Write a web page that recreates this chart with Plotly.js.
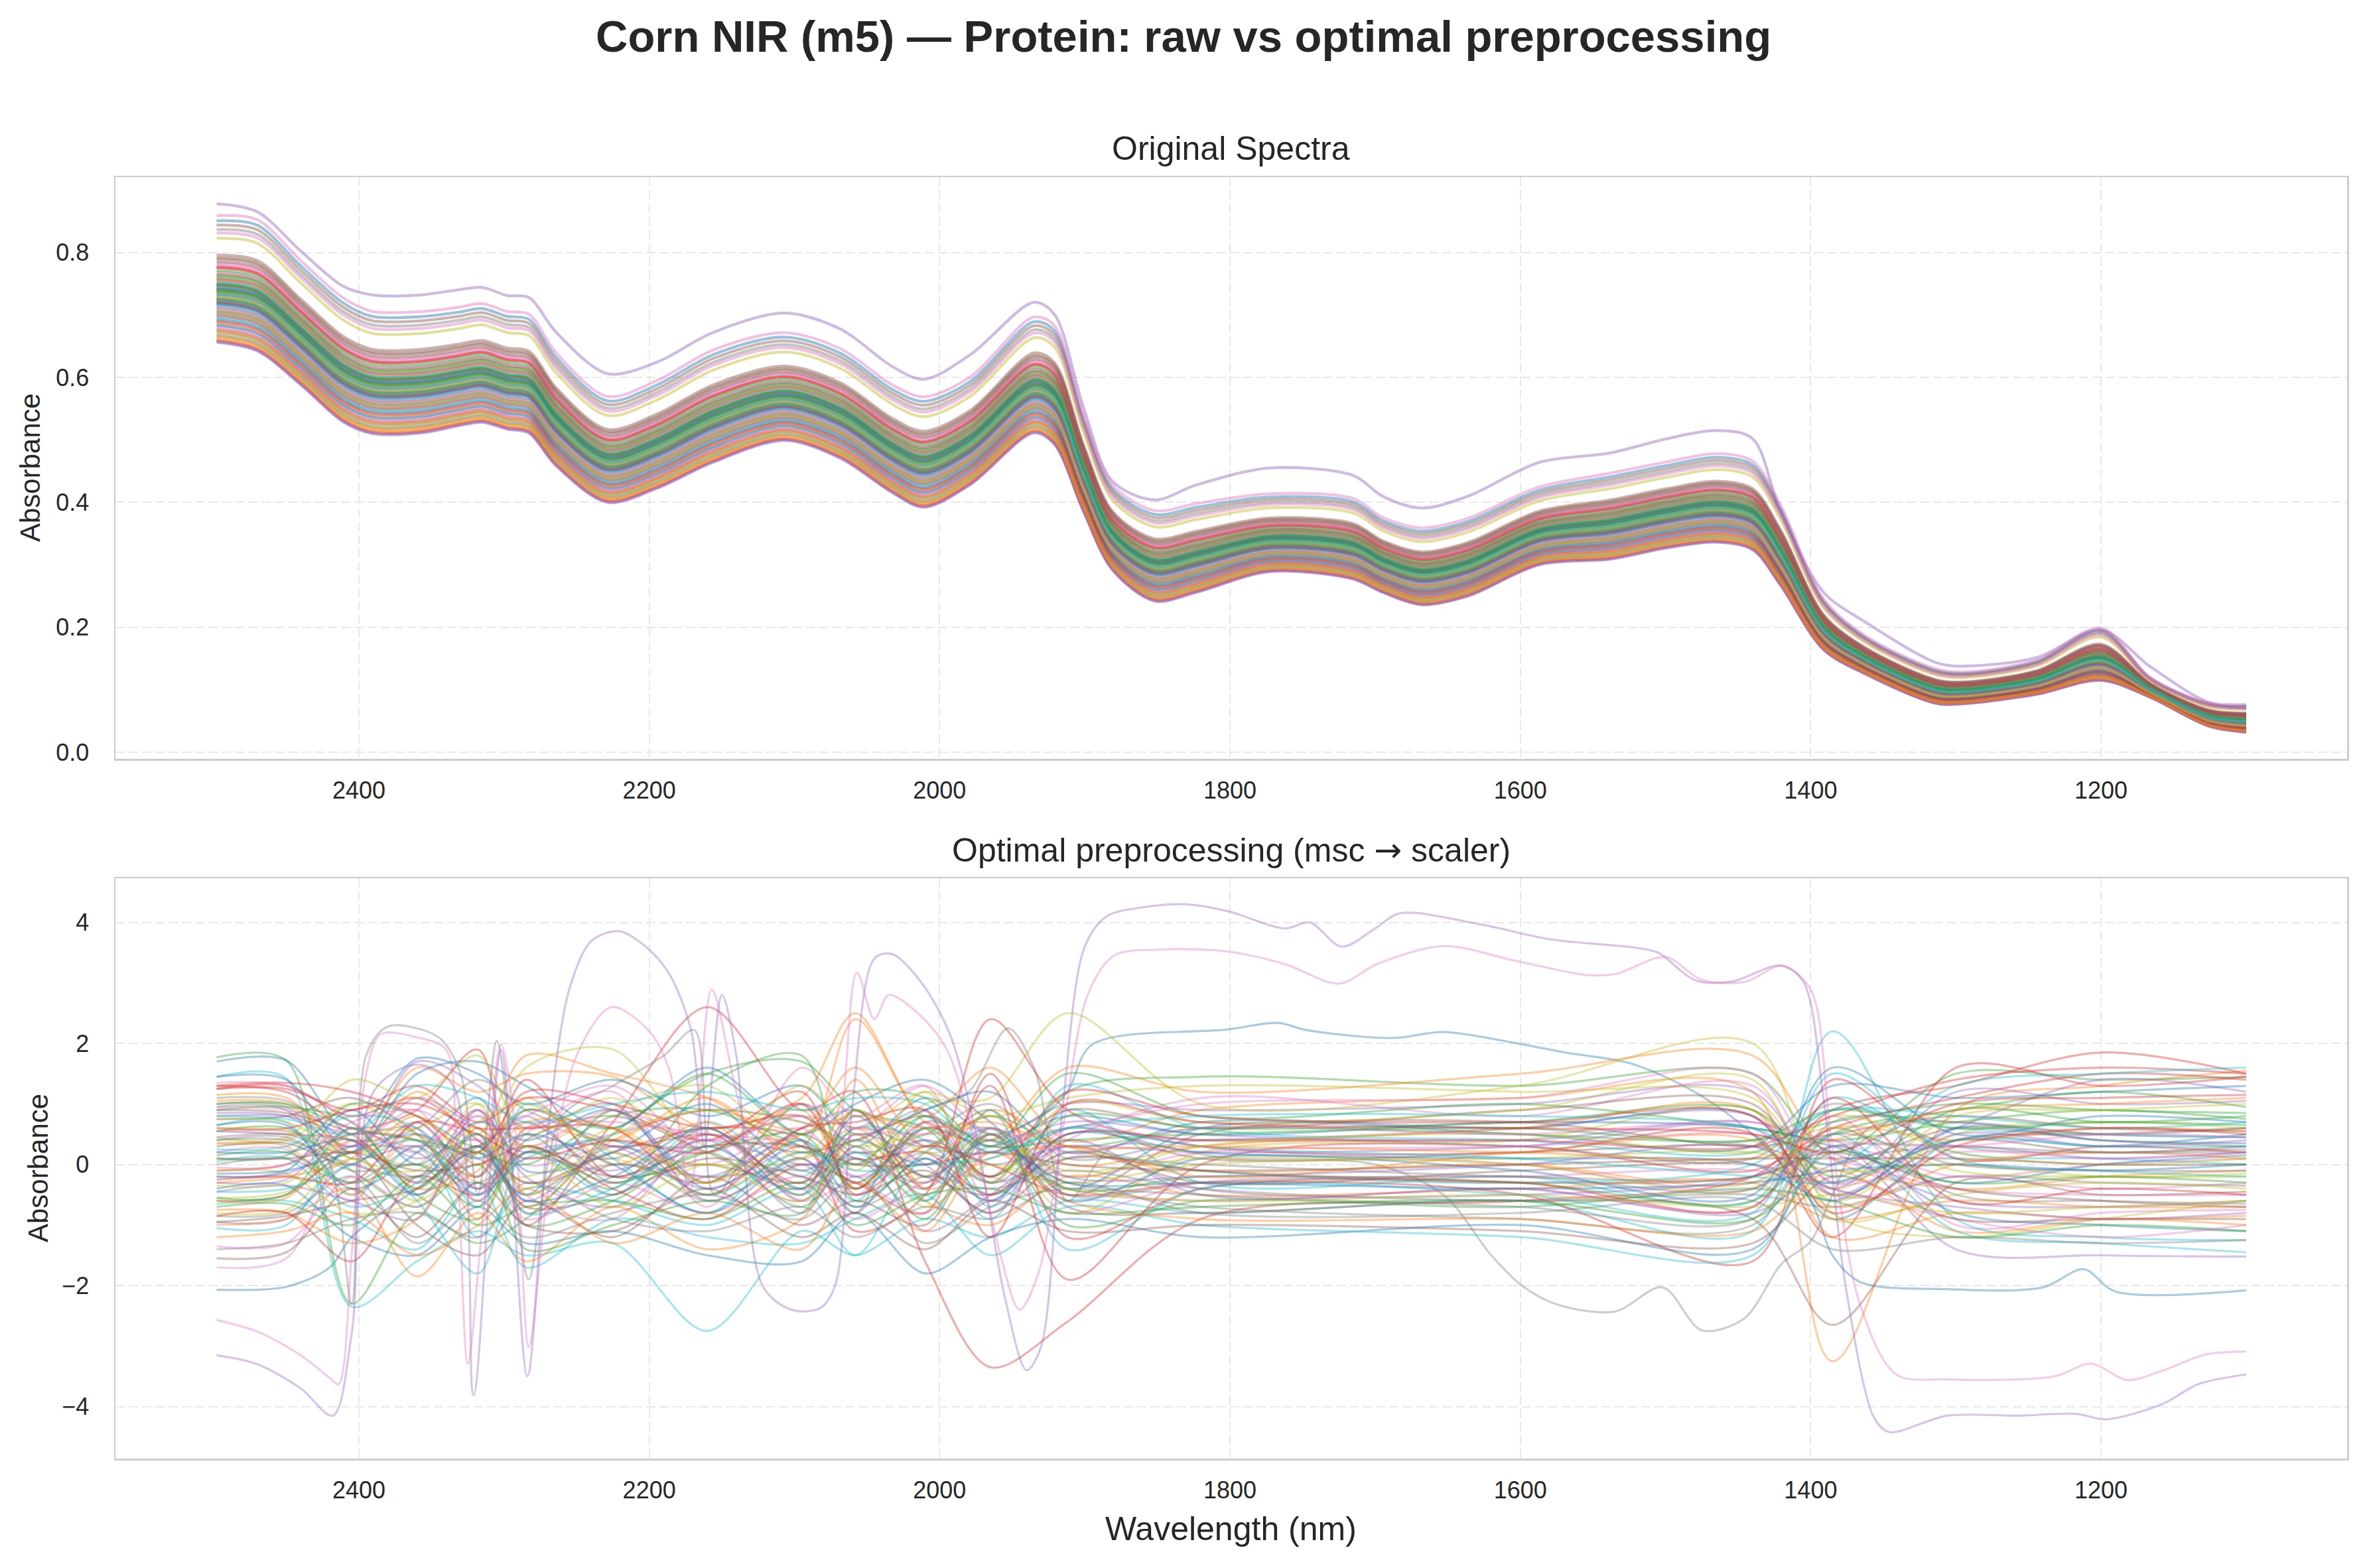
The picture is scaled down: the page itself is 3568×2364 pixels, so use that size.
<!DOCTYPE html>
<html>
<head>
<meta charset="utf-8">
<script src="https://cdn.plot.ly/plotly-3.0.1.min.js"></script>
<style>
  html, body { margin: 0; padding: 0; background: #ffffff; }
  #chart { width: 3568px; height: 2364px; }
</style>
</head>
<body>
<div id="chart"></div>
<script>
// ---------------------------------------------------------------
// Corn NIR, instrument m5: 80 samples, 1100–2498 nm.
// ---------------------------------------------------------------

// Raw absorbance: wavelengths (nm) of the spectral knots.
const rawWl = [2498, 2470, 2440, 2411, 2391, 2357, 2332, 2315, 2298, 2283, 2264, 2229, 2195, 2156, 2107,
               2068, 2033, 2011, 1979, 1935, 1921, 1901, 1881, 1852, 1823, 1773, 1715, 1695, 1668, 1636,
               1587, 1538, 1499, 1465, 1440, 1421, 1391, 1362, 1313, 1293, 1244, 1200, 1166, 1126, 1100];

// Lower edge of the main band of raw spectra.
const bandLow = [0.656, 0.642, 0.588, 0.529, 0.510, 0.511, 0.522, 0.528, 0.517, 0.511, 0.458, 0.400, 0.422, 0.464, 0.499,
                 0.470, 0.416, 0.392, 0.428, 0.511, 0.493, 0.386, 0.292, 0.242, 0.256, 0.289, 0.277, 0.256, 0.236, 0.250,
                 0.300, 0.309, 0.327, 0.336, 0.324, 0.268, 0.164, 0.125, 0.078, 0.078, 0.093, 0.115, 0.088, 0.042, 0.032];

// Upper edge of the main band of raw spectra.
const bandHigh = [0.796, 0.787, 0.725, 0.666, 0.645, 0.645, 0.653, 0.659, 0.647, 0.642, 0.583, 0.517, 0.541, 0.588, 0.618,
                  0.591, 0.535, 0.514, 0.547, 0.639, 0.624, 0.493, 0.386, 0.342, 0.354, 0.375, 0.366, 0.339, 0.321, 0.336,
                  0.386, 0.404, 0.422, 0.434, 0.422, 0.357, 0.220, 0.167, 0.116, 0.113, 0.131, 0.173, 0.110, 0.068, 0.063];

// Sample 74 sits well above the band everywhere.
const rawSample74 = [0.878, 0.865, 0.802, 0.746, 0.732, 0.732, 0.740, 0.744, 0.731, 0.728, 0.672, 0.606, 0.624, 0.672, 0.703,
                     0.677, 0.618, 0.597, 0.636, 0.720, 0.701, 0.553, 0.434, 0.404, 0.428, 0.455, 0.443, 0.410, 0.391, 0.410,
                     0.464, 0.479, 0.502, 0.515, 0.502, 0.386, 0.256, 0.208, 0.143, 0.138, 0.152, 0.196, 0.137, 0.080, 0.070];

// Position of each sample within the band (0 = lower edge, 1 = upper edge).
const bandPos = [0.55, 0.05, 0.62, 0.30, 0.72, 1.00, 0.80, 0.45, 0.58, 0.12,
                 0.40, 0.22, 0.68, 0.85, 0.35, 0.60, 0.90, 0.52, 0.75, 0.28,
                 1.39, 0.10, 0.48, 0.65, 0.18, 0.95, 0.70, 1.29, 0.38, 0.50,
                 0.26, 0.58, 0.82, 0.02, 0.44, 0.66, 0.33, 0.57, 1.19, 0.08,
                 0.63, 0.03, 0.76, 0.15, 0.54, 1.34, 0.88, 0.36, 0.60, 0.47,
                 0.20, 0.71, 0.50, 0.86, 0.00, 0.78, 1.25, 0.32, 0.52, 0.68,
                 0.43, 0.13, 0.59, 0.24, 0.01, 0.92, 0.39, 0.73, 0.56, 0.45,
                 0.61, 0.07, 0.66, 0.46, 1.62, 0.97, 1.45, 0.49, 0.34, 0.56];

// After MSC + standard scaling: knot wavelengths shared by the ordinary samples.
const scaledWl = [2498, 2450, 2405, 2360, 2318, 2285, 2225, 2160, 2095, 2058,
                  2010, 1965, 1912, 1820, 1600, 1440, 1385, 1300, 1200, 1100];

// Scaled values per sample (null rows are the traced outliers below).
const scaledRows = [
  null,
  [1.05, 1.0, 0.3, 1.6, 1.2, 1.5, 1.45, 0.6, 1.1, 2.5, 0.8, 1.6, 0.4, 0.9, 1.1, 1.2, -3.25, 0.9, 1.3, 1.55],
  [1.77, 1.72, -2.3, -0.8, -1.3, -0.9, 0.5, 1.5, 1.7, 0.9, 0.6, -0.3, 1.2, 1.45, 1.3, 1.5, 0.2, 1.5, 1.4, 1.45],
  [1.30, 1.2, 0.6, 0.9, 1.9, -1.0, 0.7, 2.6, 0.9, 1.2, -1.6, -3.35, -2.6, -0.9, -0.6, -0.2, 0.9, 1.3, 1.85, 1.5],
  [0.45, 0.5, 0.2, 1.7, 1.3, 0.6, 1.0, -0.6, 0.1, -0.8, 0.7, 0.4, 1.0, 0.9, 1.0, 1.2, -0.3, 0.6, 1.4, 1.2],
  [0.75, 0.8, 1.1, 0.5, -0.6, 0.4, 0.8, 0.2, -0.4, 0.6, 0.3, 0.9, -0.5, 0.5, 0.7, 0.3, 0.5, 0.8, 0.6, 0.55],
  [-1.70, -1.55, 0.4, -0.3, 0.8, -0.5, -0.9, 0.5, -0.6, -0.3, -0.8, 0.2, -0.4, -0.6, -0.4, -0.7, 0.8, -1.0, -0.8, -0.75],
  null,
  [0.35, 0.4, 1.0, 0.5, 0.2, 1.6, 1.9, 0.3, 0.9, -0.4, 1.0, 1.1, 2.5, 1.0, 1.3, 2.0, -0.8, -1.2, -0.9, -0.6],
  [1.45, 1.42, -2.35, -1.6, -1.1, -1.5, -1.3, -2.75, -1.1, -1.5, -0.9, -1.2, -0.6, -0.8, -0.6, -1.1, 2.2, -0.9, -1.2, -1.25],
  [1.70, 1.72, 0.5, 1.75, 1.5, 1.0, 1.4, 0.8, 1.3, 0.5, 0.9, 1.2, 0.2, 0.7, 0.6, 0.8, -0.9, 0.4, 0.3, 0.5],
  [-0.30, -0.2, 0.1, 1.2, 0.5, 1.8, 1.5, 1.1, 0.3, 2.4, 0.7, 0.4, 1.6, 1.2, 1.5, 1.8, 0.1, -0.4, -0.2, -0.1],
  [0.90, 0.95, 0.7, -0.5, -0.9, 0.3, -0.4, 1.3, 1.8, -0.6, 0.2, 0.8, 0.3, 0.6, 0.5, 0.4, 0.7, 1.0, 0.9, 0.85],
  [1.25, 1.3, 0.8, 1.1, 0.4, -0.3, 0.2, 0.6, 0.4, -1.1, -0.5, 2.4, 0.9, 0.3, 0.2, 0.5, -1.2, 1.6, 1.3, 1.45],
  [-0.95, -0.9, 0.0, -0.5, 0.2, 0.8, -0.3, 0.4, -0.8, 0.3, -1.1, -0.5, 0.3, -0.4, -0.5, -0.2, 0.4, -1.4, -1.5, -1.52],
  [0.55, 0.5, 0.4, -0.2, 0.9, -0.8, 0.0, -0.3, 0.5, 0.0, 0.4, -0.2, 0.6, 0.1, 0.2, 0.3, 0.0, 0.6, 0.4, 0.3],
  [0.20, 0.25, -0.6, 0.7, -0.4, 0.5, 1.2, -0.7, 1.6, 0.8, 1.3, -0.6, 0.4, 1.1, 0.8, 1.3, -0.5, -0.2, -0.4, -0.3],
  [-0.85, -0.8, -0.2, -1.3, -0.6, -1.2, -0.8, -0.5, -0.9, -0.2, -1.3, -0.7, -0.4, -0.7, -0.9, -1.0, 0.6, -0.5, -0.6, -0.65],
  [-0.55, -0.45, 0.2, 0.0, 1.0, 0.3, 0.9, 1.3, 0.2, 0.5, -0.3, 0.5, -0.8, 0.2, 0.4, 0.9, -0.6, 0.5, 0.7, 0.6],
  [0.65, 0.7, -0.5, 0.3, -1.2, -0.4, -0.6, -1.0, -0.4, -1.5, 0.1, -0.9, 0.9, -0.3, -0.2, -0.6, 1.1, 0.2, 0.1, 0.0],
  [-0.40, -0.35, -1.2, -1.5, -0.7, -1.3, -1.1, -1.5, -1.6, -0.8, -1.8, -1.2, -0.9, -1.2, -1.0, -1.4, 0.3, -0.8, -1.0, -1.1],
  [-1.00, -0.9, -0.4, -1.85, -0.8, -1.6, -0.7, -1.4, -0.9, 0.5, -0.6, -1.0, -0.2, -0.5, -0.4, -0.3, -0.9, -0.6, -0.7, -0.7],
  [0.10, 0.15, 1.0, 0.8, 0.3, 0.9, 0.6, 1.5, 0.5, 1.2, 1.1, 0.3, 1.5, 0.8, 1.0, 0.6, 0.4, 0.7, 0.9, 0.75],
  [-0.10, 0.0, 0.5, 0.4, -0.2, 1.4, -0.2, 0.5, -0.3, 0.9, -0.4, 1.3, -1.9, 0.0, 0.3, -0.1, 0.6, 1.1, 1.5, 1.4],
  [0.85, 0.8, 0.3, 1.1, 0.6, 0.2, 0.5, 0.9, 0.7, 0.4, 0.9, -0.3, 0.5, 0.4, 0.6, 0.8, -0.4, 1.2, 1.0, 1.05],
  [-0.60, -0.5, 0.2, -1.0, -1.5, -0.6, -1.2, -0.2, -1.0, -0.6, -1.0, 0.5, -0.7, -0.8, -0.6, -0.9, -2.65, -0.3, -0.5, -0.45],
  [1.35, 1.3, 0.7, 0.2, 0.9, 0.0, 0.3, 0.0, 0.6, -0.2, 0.1, -0.6, 0.6, 0.3, 0.0, -0.4, 0.3, -0.2, 0.0, 0.1],
  [1.10, 1.05, 0.4, 0.6, 1.4, 0.9, 0.4, 0.3, 0.8, 0.2, 0.5, 1.0, 0.1, 0.4, 0.3, 0.1, 1.0, 0.3, 0.2, 0.25],
  [0.75, 0.7, 0.2, 0.4, -0.3, -0.2, 0.1, -0.5, 0.2, -0.3, 0.3, 0.0, -0.3, 0.0, 0.1, 0.2, -0.1, 0.0, -0.2, -0.15],
  [-1.05, -1.0, 0.3, -0.6, -1.8, 0.2, -0.5, 0.7, -0.2, 0.6, 0.4, -0.5, 0.2, -0.1, -0.3, 0.0, 0.9, 0.6, 0.5, 0.45],
  [1.45, 1.4, 0.2, 1.5, 1.7, 1.3, 0.6, 1.6, 0.5, 1.0, 1.4, 0.7, -0.4, 0.6, 0.5, 0.3, 1.3, 1.1, 1.2, 1.3],
  [-0.75, -0.8, -1.3, -0.9, 0.6, -0.7, 0.4, 0.9, 0.6, 1.6, 0.3, 0.8, 0.0, 0.3, 0.6, 0.9, -1.2, -0.8, -0.9, -0.85],
  [0.55, 0.6, -0.1, -0.7, 0.0, -1.0, -0.6, 0.2, -0.7, 0.1, -0.9, 0.6, -0.4, -0.2, -0.3, -0.6, 0.5, 0.9, 1.2, 0.95],
  [1.25, 1.25, 0.9, 1.3, 0.7, 1.1, 0.9, 0.4, 1.2, -0.5, 0.3, 0.0, -0.5, -0.3, -0.5, -1.6, 1.4, 0.1, 0.3, 0.2],
  [-0.30, -0.25, 0.6, 0.1, 0.4, -0.6, 0.3, -0.2, 0.6, 0.9, 0.3, 0.2, 0.7, 0.5, 0.4, 0.7, 0.2, -0.6, -0.7, -0.6],
  [0.90, 0.85, 0.5, -0.3, 0.3, 0.7, -0.2, 0.0, -0.3, 0.2, -0.2, -0.5, 0.2, -0.3, -0.1, 0.0, -0.3, 0.4, 0.2, 0.3],
  [0.55, 0.55, 0.3, 0.9, -0.6, 0.6, 0.7, 0.5, 0.3, -0.5, 0.6, 0.4, -0.2, 0.2, 0.3, 0.5, 0.1, -0.4, -0.5, -0.5],
  [0.00, 0.1, -0.3, 0.3, 0.1, -0.5, 0.2, -0.6, 0.0, -0.7, -0.2, -0.4, -0.1, -0.4, -0.6, -0.5, -0.7, -0.2, -0.3, -0.35],
  [0.45, 0.45, 1.4, 1.1, 1.8, 0.5, 1.1, 0.2, 1.3, 0.6, 1.2, 0.8, 1.1, 1.3, 1.2, 1.1, -0.4, 0.8, 0.9, 1.0],
  [-0.65, -0.6, -0.9, -1.4, -0.3, -1.7, -0.9, -1.2, -1.3, -0.9, -0.5, -1.5, -0.7, -1.0, -1.2, -1.5, 0.5, -1.1, -1.3, -1.45],
  [-0.20, -0.1, 0.9, 0.0, 0.7, 0.4, 0.9, -0.4, 0.4, -0.3, 0.6, 0.3, 0.8, 0.5, 0.7, 0.6, 0.3, -0.3, 0.0, 0.15],
  [0.35, 0.3, -0.5, 0.5, -0.9, 0.6, 0.4, 1.1, 0.1, 0.6, -0.2, 0.9, 0.3, -0.1, 0.0, -0.3, 0.6, 0.4, 0.6, 0.55],
  [-0.55, -0.5, 0.6, -0.4, 0.5, -1.4, -1.0, -0.6, -0.8, 0.9, -0.6, 0.5, -1.0, -0.6, -0.7, -0.4, -0.6, -1.2, -1.0, -1.1],
  [-0.85, -0.8, -1.6, -0.2, -0.5, 0.3, -0.4, -0.9, 0.0, -0.3, -0.8, 1.5, -1.2, -0.4, -0.3, -0.7, 1.1, -0.6, -0.4, -0.5],
  [-0.45, -0.35, -0.6, -0.9, 0.9, -0.2, -0.7, 0.3, -0.5, 0.5, 0.0, -0.8, 0.4, -0.5, -0.4, -0.8, 0.0, 0.3, 0.1, 0.2],
  [0.30, 0.35, 0.0, 0.7, -0.2, 0.9, 0.3, 0.5, 0.2, 0.4, 0.8, 0.2, 0.9, 0.6, 0.9, 1.0, -0.5, 0.4, 0.5, 0.6],
  [-1.35, -1.3, -0.2, -0.7, 0.2, -0.9, -0.3, -0.8, -0.2, -0.9, -0.3, -0.2, -0.8, -0.3, -0.2, -0.1, -0.4, -0.9, -1.2, -1.0],
  [1.00, 0.95, 0.1, 0.3, -0.4, 0.5, -0.5, 0.6, -0.6, 0.3, -0.5, 0.3, -0.3, -0.5, -0.7, -0.9, 0.7, 0.7, 0.5, 0.6],
  [-0.10, -0.15, -0.8, -0.6, 0.6, -0.4, 0.6, -0.3, 1.0, -0.1, 1.2, -0.3, 1.0, 0.7, 0.9, 1.4, -0.9, -0.5, -0.3, -0.4],
  [0.25, 0.3, 0.8, 0.6, -0.7, 1.0, 0.1, -0.8, 0.4, -0.6, 0.8, -0.7, 1.3, 0.6, 0.4, 0.2, 0.9, 0.8, 0.6, 0.7],
  [0.65, 0.65, -0.4, 0.2, 1.1, -0.1, 0.2, 1.0, -0.1, 0.4, 0.0, 0.6, -0.6, 0.1, -0.1, -0.5, 1.6, 0.5, 0.8, 0.7],
  [-0.60, -0.55, 0.4, -0.4, -0.1, 1.1, 0.0, 0.7, -0.5, 1.4, -0.4, 0.1, 0.3, -0.2, 0.2, 0.4, -0.7, 0.0, 0.2, 0.1],
  [0.15, 0.2, -0.3, 0.0, -0.7, 0.2, -0.3, 0.2, 0.5, -0.4, 0.6, -0.2, 0.8, 0.6, 0.7, 0.9, -0.2, 0.9, 0.7, 0.8],
  [1.30, 1.35, 1.2, 0.8, 0.2, 1.2, 1.0, 0.6, 0.8, 0.1, 0.2, -0.5, 0.5, 0.4, 0.4, 0.3, 0.8, 1.4, 1.6, 1.5],
  [0.80, 0.8, 0.5, 0.6, -0.4, 0.2, 0.3, -0.4, 0.3, -0.2, 0.4, 0.0, 0.3, 0.2, 0.3, 0.6, -0.5, 0.5, 0.3, 0.4],
  [-1.55, -1.45, -0.4, -1.2, -0.3, -1.0, -1.1, -0.4, -1.2, -0.8, -1.4, -0.6, -1.1, -1.0, -1.1, -1.3, -0.2, -0.9, -0.9, -0.9],
  [-0.05, 0.0, 0.7, 0.9, 0.4, 0.8, 1.3, 0.2, 1.0, 0.6, 1.3, 0.5, 0.6, 1.0, 1.1, 1.5, -0.3, 0.2, 0.1, 0.2],
  [0.40, 0.4, 0.0, -0.2, 0.3, -0.3, 0.0, -0.2, -0.1, -0.4, 0.2, -0.3, 0.1, 0.0, -0.2, -0.2, 0.3, 0.3, 0.2, 0.2],
  [-0.35, -0.3, 0.5, 0.6, 1.0, -0.5, 0.5, 0.9, 0.7, 0.3, 0.5, 0.6, -0.2, 0.3, 0.5, 0.2, 0.6, -0.1, -0.2, -0.2],
  [0.05, 0.1, -0.7, -0.3, 0.5, -0.8, -0.4, 0.3, -0.5, 0.2, -0.6, 0.9, -1.4, -0.4, -0.5, -0.8, 1.5, 0.1, -0.1, -0.2],
  [-0.15, -0.1, 0.2, 0.5, 0.1, 0.5, 0.0, -0.8, 0.1, -0.7, 0.1, -0.6, 0.5, 0.2, 0.1, 0.0, -0.6, 0.6, 0.4, 0.35],
  [-1.20, -1.1, -0.8, -1.5, -1.0, -0.4, -1.3, -0.8, -1.4, -0.3, -1.1, 0.2, -0.6, -0.9, -0.9, -1.1, -0.1, -1.1, -0.9, -1.0],
  [1.00, 1.0, 0.6, 0.4, 0.2, 0.0, 0.8, 0.9, 0.3, 0.0, 0.8, 0.3, 0.4, 0.5, 0.6, 0.4, 0.9, 0.6, 0.7, 0.65],
  [0.60, 0.6, 0.9, 1.0, 0.6, 0.6, 0.6, -0.5, 0.6, 0.7, 0.9, -1.2, 1.0, 0.7, 0.6, 0.5, 0.2, 1.0, 1.1, 1.15],
  [-0.20, -0.15, 0.3, 0.2, -0.5, 0.1, -0.1, 0.4, 0.0, 0.1, -0.3, 0.6, -0.2, -0.2, 0.0, 0.3, -0.4, -0.7, -0.9, -0.8],
  [-0.95, -0.85, -0.6, -0.4, 0.3, -0.7, -0.5, 0.1, -0.2, -0.5, -0.1, -0.8, 0.1, -0.1, -0.3, -0.2, 0.2, -0.4, -0.6, -0.7],
  [0.95, 0.9, 0.6, 0.3, 0.8, 0.3, 0.9, 0.4, 0.8, 0.6, 0.5, 0.6, 0.2, 0.6, 0.5, 0.7, 0.4, 0.3, 0.5, 0.45],
  [-1.40, -1.3, -0.9, -0.8, -1.2, -0.3, -0.9, -1.1, -0.7, -1.2, -0.7, -0.9, -0.3, -0.8, -0.8, -0.6, -1.4, -1.2, -1.3, -1.25],
  [0.60, 0.55, 0.1, -0.1, 0.7, 1.0, 0.2, 0.0, 0.1, 0.9, 0.2, 0.4, -0.1, 0.1, 0.0, -0.4, 0.8, 0.2, 0.0, 0.1],
  [-0.45, -0.4, 0.0, 0.4, -0.5, 0.1, 0.4, -0.5, 0.2, -0.1, 0.0, 0.1, 0.6, 0.3, 0.1, -0.2, -0.3, 0.4, 0.3, 0.3],
  [0.20, 0.2, 0.4, -0.5, 0.3, -0.6, -0.2, 0.6, -0.4, 0.8, -0.2, 0.4, -0.3, -0.3, -0.4, -0.3, -0.1, 0.0, -0.1, 0.0],
  [1.15, 1.1, 0.2, 0.8, 0.0, 0.7, 0.6, -0.3, 0.5, 0.8, 0.6, 0.7, 0.3, 0.3, 0.2, 0.1, 0.4, 0.9, 1.0, 1.1],
  [-0.70, -0.65, -1.0, -0.2, -1.0, -0.7, -0.6, -0.9, -0.3, -1.0, -0.5, -0.4, -0.8, -0.7, -0.6, -0.9, 0.2, -0.3, -0.2, -0.3],
  [-0.25, -0.2, -0.3, 0.7, 0.5, 0.1, 0.4, 0.2, 1.0, -0.4, 0.7, -0.2, 1.2, 0.8, 0.7, 0.8, -0.8, 0.3, 0.6, 0.5],
  null,
  [0.10, 0.1, 0.2, -0.1, 0.0, 0.3, -0.2, 0.3, 0.3, 0.0, 0.0, 0.2, 0.0, -0.1, 0.0, 0.1, 0.1, 0.1, 0.0, 0.0],
  null,
  [0.40, 0.45, -0.1, 0.0, -0.3, 0.2, 0.1, 0.6, -0.4, 0.1, -0.4, 0.5, -0.5, -0.3, -0.2, -0.4, 0.5, 0.0, -0.1, -0.1],
  [-0.80, -0.75, 0.1, -0.6, 0.2, 0.3, -0.7, 0.0, -0.6, 0.4, -0.7, 0.0, -0.4, -0.6, -0.5, -0.7, -0.5, -0.8, -0.7, -0.6],
  [0.80, 0.75, 0.5, 1.3, 1.1, 0.7, 1.0, 1.2, 0.9, 1.1, 1.0, 0.2, 0.6, 0.8, 0.8, 0.6, 0.0, 1.3, 1.5, 1.6]
];

// Scaled outliers, traced individually.
const scaled0Wl = [2498, 2450, 2420, 2405, 2360, 2318, 2285, 2225, 2160, 2095, 2058, 2010, 1965, 1930, 1912, 1895,
                   1802, 1767, 1747, 1688, 1653, 1604, 1569, 1524, 1480, 1440, 1400, 1385, 1366, 1306, 1240, 1212, 1190, 1100];
const scaled0Z  = [-2.07, -2.02, -1.70, -1.2, -0.4, 0.2, -0.5, 0.9, -0.3, 1.0, 0.3, 1.1, 0.5, 0.8, 1.2, 1.98,
                   2.23, 2.34, 2.22, 2.09, 2.19, 2.01, 1.85, 1.67, 1.2, 0.5, -0.6, -1.5, -1.94, -2.06, -2.03, -1.73, -2.10, -2.08];

const scaled7Wl = [2498, 2450, 2420, 2405, 2395, 2380, 2345, 2330, 2318, 2305, 2290, 2283, 2260, 2225, 2190, 2169,
                   2155, 2130, 2095, 2058, 2030, 2010, 1980, 1953, 1935, 1912, 1880, 1800, 1700, 1653, 1620, 1599,
                   1575, 1535, 1502, 1475, 1446, 1420, 1400, 1385, 1360, 1300, 1200, 1100];
const scaled7Z  = [0.95, 0.9, 0.0, -2.3, 1.8, 2.28, 2.10, 1.5, -0.5, 2.04, -1.0, -1.9, 0.8, 1.3, 1.8, 2.22,
                   -0.5, 0.2, 0.4, -0.8, 0.6, 0.9, 1.2, 2.25, 1.6, -0.6, 0.3, 0.1, 0.0, -0.5, -1.5, -2.0,
                   -2.31, -2.43, -2.03, -2.74, -2.55, -1.64, -1.27, -0.5, 0.6, 0.7, 0.5, 0.45];

const scaled74Wl = [2498, 2470, 2440, 2418, 2405, 2390, 2360, 2335, 2321, 2302, 2284, 2270, 2255, 2240, 2221, 2201,
                    2186, 2171, 2162, 2150, 2140, 2122, 2102, 2082, 2072, 2060, 2045, 2033, 2013, 1993, 1975, 1955,
                    1940, 1930, 1915, 1900, 1885, 1860, 1830, 1802, 1762, 1745, 1723, 1700, 1683, 1628, 1579, 1520,
                    1505, 1480, 1455, 1420, 1405, 1391, 1376, 1356, 1346, 1306, 1257, 1217, 1197, 1158, 1133, 1100];
const scaled74Z  = [-3.15, -3.30, -3.70, -4.15, -2.8, 1.2, 1.65, 1.3, -3.81, 1.9, -3.50, 0.5, 2.9, 3.69, 3.855, 3.57,
                    3.14, 2.2, 0.3, 2.8, 1.8, -2.0, -2.40, -2.37, -2.0, 1.0, 3.40, 3.48, 3.02, 2.16, 0.5, -2.2,
                    -3.40, -3.0, 1.0, 3.6, 4.1, 4.25, 4.3, 4.19, 3.90, 4.0, 3.60, 3.9, 4.15, 3.97, 3.72, 3.58,
                    3.50, 3.05, 3.02, 3.29, 3.02, 1.06, -2.0, -4.20, -4.42, -4.15, -4.15, -4.12, -4.21, -3.96, -3.63, -3.47];

const scaled76Wl = [2498, 2469, 2439, 2420, 2414, 2405, 2395, 2385, 2360, 2340, 2333, 2325, 2315, 2302, 2292, 2283,
                    2270, 2250, 2226, 2200, 2186, 2172, 2157, 2140, 2120, 2095, 2075, 2057, 2045, 2035, 2015, 1995,
                    1975, 1958, 1945, 1932, 1915, 1898, 1880, 1850, 1802, 1762, 1725, 1698, 1653, 1604, 1554, 1534,
                    1500, 1475, 1445, 1420, 1400, 1386, 1366, 1341, 1306, 1232, 1207, 1182, 1158, 1128, 1100];
const scaled76Z  = [-2.57, -2.77, -3.17, -3.53, -3.63, -1.5, 1.5, 2.15, 2.1, 1.9, 0.5, -3.29, -1.0, 1.98, 0.5, -3.01,
                    -0.5, 1.8, 2.60, 2.2, 1.55, -0.47, 2.89, 1.2, -0.4, -0.6, -0.2, 3.17, 2.4, 2.80, 2.5, 1.9,
                    0.3, -1.5, -2.40, -1.8, 0.6, 2.8, 3.45, 3.55, 3.52, 3.31, 2.99, 3.32, 3.61, 3.37, 3.13, 3.15,
                    3.43, 3.05, 3.02, 3.28, 2.89, 0.45, -2.31, -3.47, -3.55, -3.50, -3.29, -3.56, -3.41, -3.14, -3.09];

// Tick positions.
const xTicks = [1200, 1400, 1600, 1800, 2000, 2200, 2400];
const yTicksRaw = [0.0, 0.2, 0.4, 0.6, 0.8];
const yTicksScaled = [-4, -2, 0, 2, 4];

// ---------------------------------------------------------------
const palette = ['#1f77b4', '#ff7f0e', '#2ca02c', '#d62728', '#9467bd',
                 '#8c564b', '#e377c2', '#7f7f7f', '#bcbd22', '#17becf'];

const scaledOutliers = {
  0: [scaled0Wl, scaled0Z],
  7: [scaled7Wl, scaled7Z],
  74: [scaled74Wl, scaled74Z],
  76: [scaled76Wl, scaled76Z]
};

const traces = [];
const nSamples = bandPos.length;

// Top panel: raw spectra.
for (let i = 0; i < nSamples; i++) {
  const y = (i === 74) ? rawSample74
          : bandLow.map((lo, k) => lo + bandPos[i] * (bandHigh[k] - lo));
  traces.push({
    type: 'scatter', mode: 'lines', x: rawWl, y: y, xaxis: 'x', yaxis: 'y',
    line: { color: palette[i % 10], width: 4.3, shape: 'spline', smoothing: 0.9 },
    opacity: 0.45, hoverinfo: 'skip', showlegend: false
  });
}

// Bottom panel: MSC followed by standard scaling.
for (let i = 0; i < nSamples; i++) {
  let x, y;
  if (scaledOutliers[i]) { x = scaledOutliers[i][0]; y = scaledOutliers[i][1]; }
  else { x = scaledWl; y = scaledRows[i]; }
  traces.push({
    type: 'scatter', mode: 'lines', x: x, y: y, xaxis: 'x2', yaxis: 'y2',
    line: { color: palette[i % 10], width: 3.2, shape: 'spline', smoothing: 0.9 },
    opacity: 0.38, hoverinfo: 'skip', showlegend: false
  });
}

const W = 3568, H = 2364;
const FONT = 'Liberation Sans, Arial, Helvetica, sans-serif';
const INK = '#262626';

const plotLeft = 174, plotRight = 3538;
const topPanel = [267, 1144], bottomPanel = [1324, 2199];
const xDomain = [plotLeft / W, plotRight / W];
const yDom = (p) => [1 - p[1] / H, 1 - p[0] / H];
const xCenter = (plotLeft + plotRight) / 2 / W;

const axisBase = {
  showline: true, mirror: true, linecolor: '#cccccc', linewidth: 2.5,
  showgrid: true, gridcolor: '#e8e8e8', gridwidth: 2, griddash: '14px,6px',
  zeroline: false, ticks: '',
  tickfont: { family: FONT, size: 36, color: INK }
};

const xBase = Object.assign({}, axisBase, { ticklabelstandoff: 14 });
const yBase = Object.assign({}, axisBase, { ticklabelstandoff: 30 });

const layout = {
  width: W, height: H,
  margin: { l: 0, r: 0, t: 0, b: 0 },
  paper_bgcolor: '#ffffff', plot_bgcolor: '#ffffff',
  font: { family: FONT, color: INK },
  xaxis: Object.assign({}, xBase, {
    domain: xDomain, anchor: 'y', range: [2567.7, 1030.5], tickvals: xTicks
  }),
  yaxis: Object.assign({}, yBase, {
    domain: yDom(topPanel), anchor: 'x', range: [-0.0103, 0.9205],
    tickvals: yTicksRaw, tickformat: '.1f'
  }),
  xaxis2: Object.assign({}, xBase, {
    domain: xDomain, anchor: 'y2', range: [2567.7, 1030.5], tickvals: xTicks
  }),
  yaxis2: Object.assign({}, yBase, {
    domain: yDom(bottomPanel), anchor: 'x2', range: [-4.859, 4.731],
    tickvals: yTicksScaled
  }),
  annotations: [
    { text: 'Corn NIR (m5) — Protein: raw vs optimal preprocessing', xref: 'paper', yref: 'paper',
      x: 0.5, y: 1 - 54 / H, xanchor: 'center', yanchor: 'middle', showarrow: false,
      font: { family: FONT, size: 67, color: INK, weight: 'bold' } },
    { text: 'Original Spectra', xref: 'paper', yref: 'paper',
      x: xCenter, y: 1 - 224 / H, xanchor: 'center', yanchor: 'middle', showarrow: false,
      font: { family: FONT, size: 50, color: INK } },
    { text: 'Optimal preprocessing (msc <span style="font-family:DejaVu Sans">→</span> scaler)',
      xref: 'paper', yref: 'paper',
      x: xCenter, y: 1 - 1282 / H, xanchor: 'center', yanchor: 'middle', showarrow: false,
      font: { family: FONT, size: 50, color: INK } },
    { text: 'Wavelength (nm)', xref: 'paper', yref: 'paper',
      x: xCenter, y: 1 - 2305 / H, xanchor: 'center', yanchor: 'middle', showarrow: false,
      font: { family: FONT, size: 50, color: INK } },
    { text: 'Absorbance', xref: 'paper', yref: 'paper', textangle: -90,
      x: 45 / W, y: 1 - 705 / H, xanchor: 'center', yanchor: 'middle', showarrow: false,
      font: { family: FONT, size: 42, color: INK } },
    { text: 'Absorbance', xref: 'paper', yref: 'paper', textangle: -90,
      x: 57 / W, y: 1 - 1761 / H, xanchor: 'center', yanchor: 'middle', showarrow: false,
      font: { family: FONT, size: 42, color: INK } }
  ]
};

Plotly.newPlot('chart', traces, layout, { staticPlot: true, displayModeBar: false });
</script>
</body>
</html>
